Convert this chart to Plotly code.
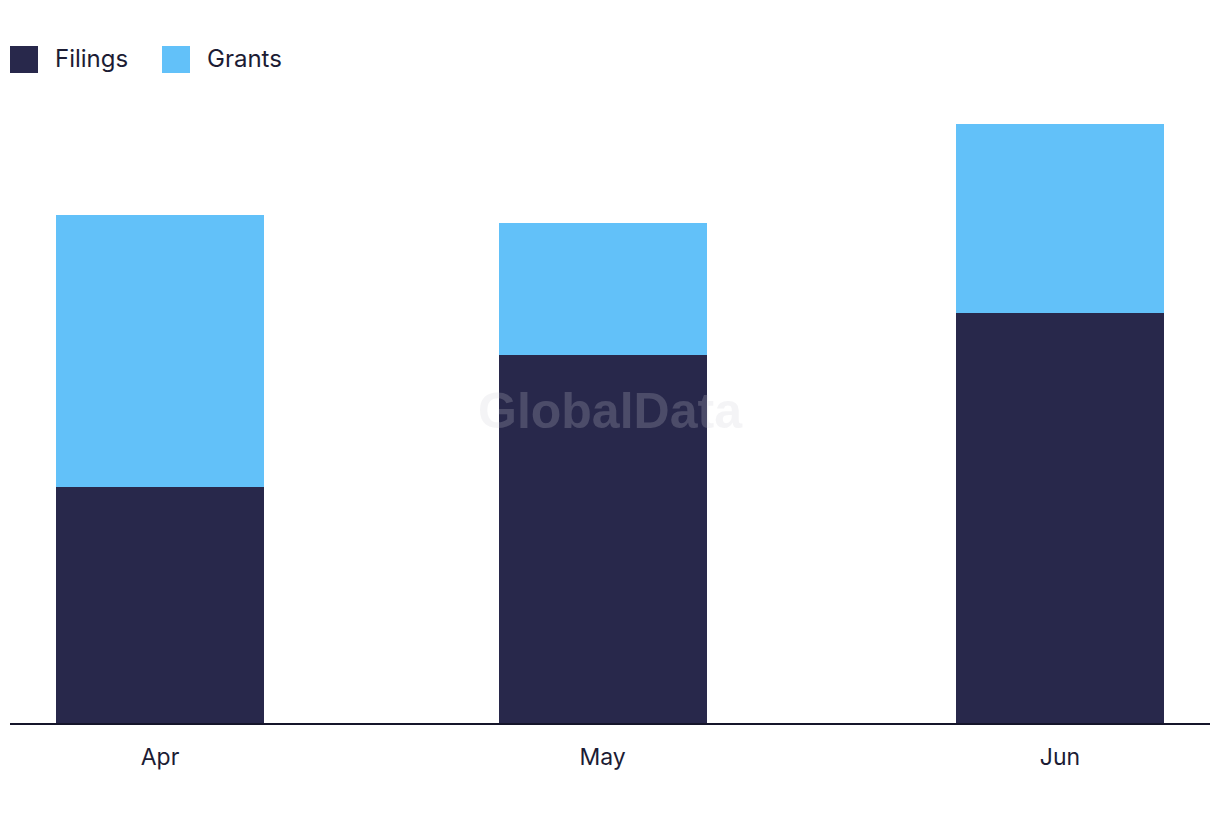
import plotly.graph_objects as go

months = ["2024-04-01", "2024-05-01", "2024-06-01"]
month_labels = ["Apr", "May", "Jun"]
filings = [50.2, 78.3, 87.2]
grants = [57.9, 28.1, 40.2]

NAVY = "#28284B"
BLUE = "#62C1F9"
TEXT = "#1C1C34"
BAR_W = 14.1 * 86400000

fig = go.Figure()
fig.add_trace(go.Bar(x=months, y=filings, name="Filings", marker=dict(color=NAVY, line=dict(width=0)),
                     width=[BAR_W] * 3, showlegend=False))
fig.add_trace(go.Bar(x=months, y=grants, name="Grants", marker=dict(color=BLUE, line=dict(width=0)),
                     width=[BAR_W] * 3, showlegend=False))

W, H = 1200.0, 623.0
def px_x(x):
    return (x - 10) / W
def px_y(y):
    return (723 - y) / H

shapes = []
annotations = []
for name, color, x0, tx in [("Filings", NAVY, 10, 53), ("Grants", BLUE, 162, 205)]:
    shapes.append(dict(type="rect", xref="paper", yref="paper", x0=px_x(x0), x1=px_x(x0 + 28),
                       y0=px_y(73), y1=px_y(46), fillcolor=color, line=dict(width=0)))
    annotations.append(dict(text=name, xref="paper", yref="paper", x=px_x(tx), y=px_y(58.5),
                            xanchor="left", yanchor="middle", showarrow=False,
                            font=dict(family="Inter, Lato, sans-serif", size=24, color=TEXT)))

annotations.append(dict(text="<b>GlobalData</b>", xref="paper", yref="paper", x=px_x(610), y=px_y(411),
                        xanchor="center", yanchor="middle", showarrow=False,
                        font=dict(family="Liberation Sans, Arial, sans-serif", size=50,
                                  color="rgba(205,205,215,0.22)")))

fig.update_layout(
    barmode="stack",
    width=1220, height=822,
    margin=dict(l=10, r=10, t=100, b=99),
    paper_bgcolor="white", plot_bgcolor="white",
    shapes=shapes, annotations=annotations,
    xaxis=dict(type="date", range=["2024-03-21 20:00", "2024-06-11 04:00"],
               tickvals=months, ticktext=month_labels, ticks="", showgrid=False, zeroline=False,
               showline=True, linecolor="#15152A", linewidth=2,
               tickfont=dict(family="Inter, Lato, sans-serif", size=23, color=TEXT),
               ticklabelstandoff=12),
    yaxis=dict(range=[0, 132.5], showticklabels=False, showgrid=False, zeroline=False, ticks=""),
)

fig.write_html("out.html")
